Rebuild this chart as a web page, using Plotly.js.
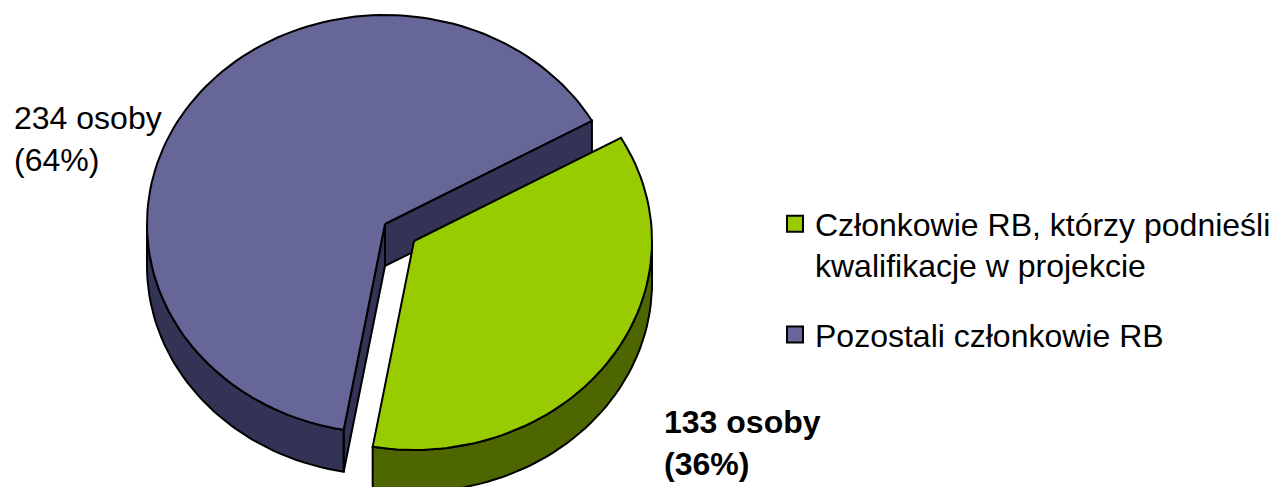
<!DOCTYPE html>
<html>
<head>
<meta charset="utf-8">
<script src="https://cdn.plot.ly/plotly-3.0.1.min.js"></script>
<style>html,body{margin:0;padding:0;background:#fff}#c{width:1273px;height:487px}</style>
</head>
<body>
<div id="c"></div>
<script>
const categories = ['Członkowie RB, którzy podnieśli', 'Pozostali członkowie RB'];
const categoryContinuation = 'kwalifikacje w projekcie';
const persons = [133, 234];
const percents = [36, 64];

const topColors = ['#99CC00', '#666699'];
const sideColors = ['#4D6600', '#333355'];
const FONT = '"Liberation Sans", Arial, sans-serif';

// pie projection, in axis units (axes run 1:1 with the page)
const W = 1273, H = 487;
const RX = 238, RY = 209, DEPTH = 42;
const CENTER = [385, 224];       // remaining slice
const EXPLODED = [414, 241];     // pulled-out slice
const START_DEG = 29.6;          // where the first slice starts, going clockwise

const spanDeg = percents.map(v => v / 100 * 360);

function pt(c, deg, dz) {
  const t = deg * Math.PI / 180;
  return [c[0] + RX * Math.cos(t), c[1] - RY * Math.sin(t) + (dz || 0)];
}
function arc(c, from, to, dz) {
  const n = Math.max(2, Math.ceil(Math.abs(to - from) / 2));
  const out = [];
  for (let i = 0; i <= n; i++) out.push(pt(c, from + (to - from) * i / n, dz));
  return out;
}
function poly(points, fill) {
  const p = points.concat([points[0]]);
  return {
    type: 'scatter', mode: 'lines', x: p.map(q => q[0]), y: p.map(q => q[1]),
    fill: 'toself', fillcolor: fill, line: {color: '#000', width: 2, shape: 'linear'},
    hoverinfo: 'skip', showlegend: false
  };
}
function rim(c, from, to, fill) {
  const a = arc(c, from, to, 0), b = arc(c, to, from, DEPTH);
  return poly(a.concat(b), fill);
}

const s0a = START_DEG, s0b = START_DEG - spanDeg[0];
const s1a = START_DEG, s1b = START_DEG + spanDeg[1];

const c1 = CENTER, c0 = EXPLODED;
const traces = [
  poly([c1, pt(c1, s1a), pt(c1, s1a, DEPTH), [c1[0], c1[1] + DEPTH]], sideColors[1]),
  poly([c1, pt(c1, s1b), pt(c1, s1b, DEPTH), [c1[0], c1[1] + DEPTH]], sideColors[1]),
  rim(c1, 180, s1b, sideColors[1]),
  poly([c1].concat(arc(c1, s1a, s1b, 0)), topColors[1]),
  rim(c0, 0, s0b, sideColors[0]),
  poly([c0].concat(arc(c0, s0a, s0b, 0)), topColors[0])
];

categories.forEach((name, i) => traces.push({
  type: 'scatter', mode: 'markers', x: [null], y: [null], name: name,
  legendgroup: 'g' + i,
  marker: {symbol: 'square', size: 17, color: topColors[i], line: {color: '#000', width: 2}},
  hoverinfo: 'skip'
}));

const layout = {
  width: W, height: H,
  margin: {l: 0, r: 0, t: 0, b: 0, autoexpand: false},
  paper_bgcolor: '#fff', plot_bgcolor: '#fff',
  xaxis: {range: [0, W], visible: false, fixedrange: true},
  yaxis: {range: [H, 0], visible: false, fixedrange: true},
  showlegend: true,
  legend: {
    x: 0.6088, y: 0.5965, xanchor: 'left', yanchor: 'top',
    font: {family: FONT, size: 32, color: '#000'},
    bgcolor: 'rgba(0,0,0,0)', traceorder: 'grouped',
    tracegroupgap: 66, itemsizing: 'trace'
  },
  annotations: [
    {xref: 'x', yref: 'y', x: 813, y: 246, xanchor: 'left', yanchor: 'top', align: 'left', showarrow: false,
     text: categoryContinuation, font: {family: FONT, size: 32, color: '#000'}},
    {xref: 'x', yref: 'y', x: 12, y: 98, xanchor: 'left', yanchor: 'top', align: 'left', showarrow: false,
     text: persons[1] + ' osoby<br>(' + percents[1] + '%)',
     font: {family: FONT, size: 32, color: '#000'}},
    {xref: 'x', yref: 'y', x: 662, y: 402, xanchor: 'left', yanchor: 'top', align: 'left', showarrow: false,
     text: '<b>' + persons[0] + ' osoby</b><br><b>(' + percents[0] + '%)</b>',
     font: {family: FONT, size: 32, color: '#000'}}
  ]
};
Plotly.newPlot('c', traces, layout, {displayModeBar: false, staticPlot: true});
</script>
</body>
</html>
